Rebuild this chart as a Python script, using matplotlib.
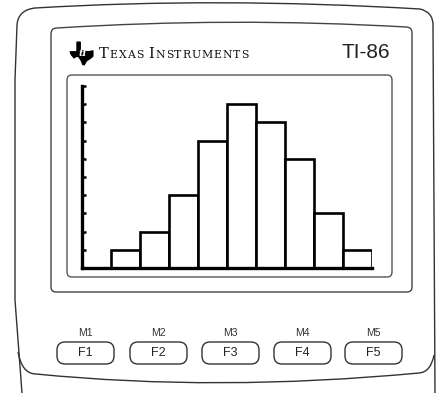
import numpy as np
import matplotlib.pyplot as plt
from matplotlib.path import Path
from matplotlib.patches import PathPatch, FancyBboxPatch, Polygon

# Dados do histograma (10 classes, a primeira vazia)
classes = np.arange(10)
frequencias = [0, 1, 2, 4, 7, 9, 8, 6, 3, 1]
marcas_y = np.arange(1, 11)

teclas = ["F1", "F2", "F3", "F4", "F5"]
menus = ["M1", "M2", "M3", "M4", "M5"]

W, H = 436, 393
fig = plt.figure(figsize=(W / 100, H / 100), dpi=100)
fig.patch.set_facecolor("white")

# Fundo em coordenadas de pixel
bg = fig.add_axes([0, 0, 1, 1])
bg.set_xlim(0, W)
bg.set_ylim(H, 0)
bg.axis("off")

linha = "#333333"

# Corpo da calculadora
M, L, C = Path.MOVETO, Path.LINETO, Path.CURVE3
corpo = Path(
    [(22, 393), (15, 300), (15, 80), (17, 25), (18, 10), (35, 8),
     (218, -3), (420, 9), (433, 12), (433, 25), (435, 393)],
    [M, L, L, L, C, C, C, C, C, C, L],
)
bg.add_patch(PathPatch(corpo, fill=False, edgecolor=linha, lw=1.0))

face = Path(
    [(18, 352), (22, 374), (36, 374), (217, 392), (419, 373), (431, 372), (434, 355)],
    [M, C, C, C, C, C, C],
)
bg.add_patch(PathPatch(face, fill=False, edgecolor=linha, lw=1.0))

# Moldura da tela
moldura = Path(
    [(51, 34), (51, 287), (51, 292), (56, 292), (407, 292), (412, 292), (412, 287),
     (412, 33), (412, 27), (406, 27), (231, 17), (57, 28), (51, 28), (51, 34)],
    [M, L, C, C, L, C, C, L, C, C, C, C, C, C],
)
bg.add_patch(PathPatch(moldura, fill=False, edgecolor="#444444", lw=1.0))

# Tela
bg.add_patch(FancyBboxPatch((67, 75), 325, 202, boxstyle="round,pad=0,rounding_size=5",
                            fill=False, edgecolor="#555555", lw=1.0))

# Logotipo (forma aproximada do Texas)
texas = np.array([
    [0.30, 0.0], [0.45, 0.0], [0.45, 0.35], [0.60, 0.40], [0.80, 0.42], [1.0, 0.38],
    [1.0, 0.62], [0.88, 0.72], [0.72, 0.82], [0.62, 1.0], [0.55, 0.98], [0.48, 0.80],
    [0.38, 0.65], [0.28, 0.62], [0.18, 0.70], [0.05, 0.55], [0.0, 0.42], [0.30, 0.42],
])
texas = texas * [23, 23] + [70, 42]
bg.add_patch(Polygon(texas, closed=True, facecolor="black", edgecolor="black", lw=0.8))
bg.text(83, 54, "ti", color="white", fontsize=7, fontstyle="italic",
        fontweight="bold", ha="center", va="center", family="DejaVu Serif")

# "TEXAS INSTRUMENTS" em versalete, letra a letra
serif = "DejaVu Serif"
renderer = fig.canvas.get_renderer()
pedacos = [("T", 10.5), ("EXAS", 7.8), (" ", 7.8), ("I", 10.5), ("NSTRUMENTS", 7.8)]
x = 99.0
for txt, tam in pedacos:
    for ch in txt:
        t = bg.text(x, 58.5, ch, fontsize=tam, family=serif, va="baseline", color="#111111")
        larg = t.get_window_extent(renderer).width
        x += larg + 0.9

bg.text(390, 58, "TI-86", fontsize=15, family="Liberation Sans", ha="right",
        va="baseline", color="#222222")

# Teclas de função
x_teclas = [57, 130, 202, 274, 345]
for x0, f, m in zip(x_teclas, teclas, menus):
    bg.add_patch(FancyBboxPatch((x0, 342), 57, 22, boxstyle="round,pad=0,rounding_size=8",
                                fill=False, edgecolor=linha, lw=1.0))
    bg.text(x0 + 28.5, 353.5, f, fontsize=9, family="Liberation Sans",
            ha="center", va="center", color="#222222")
    bg.text(x0 + 28.5, 332.5, m, fontsize=7.5, family="Liberation Sans",
            ha="center", va="center", color="#333333")

# Histograma na tela
ax = fig.add_axes([82 / W, (H - 268) / H, 290 / W, 182 / H])
ax.patch.set_alpha(0)
ax.bar(classes, frequencias, width=1, align="edge", facecolor="white",
       edgecolor="black", linewidth=1.9)
ax.set_xlim(0, 10)
ax.set_ylim(0, 10)
for s in ["top", "right"]:
    ax.spines[s].set_visible(False)
ax.spines["left"].set_linewidth(2.4)
ax.spines["bottom"].set_linewidth(2.4)
ax.set_xticks([])
ax.set_yticks(marcas_y)
ax.tick_params(axis="y", direction="in", length=3, width=1.8, labelleft=False)

fig.savefig("out.png", dpi=100)
